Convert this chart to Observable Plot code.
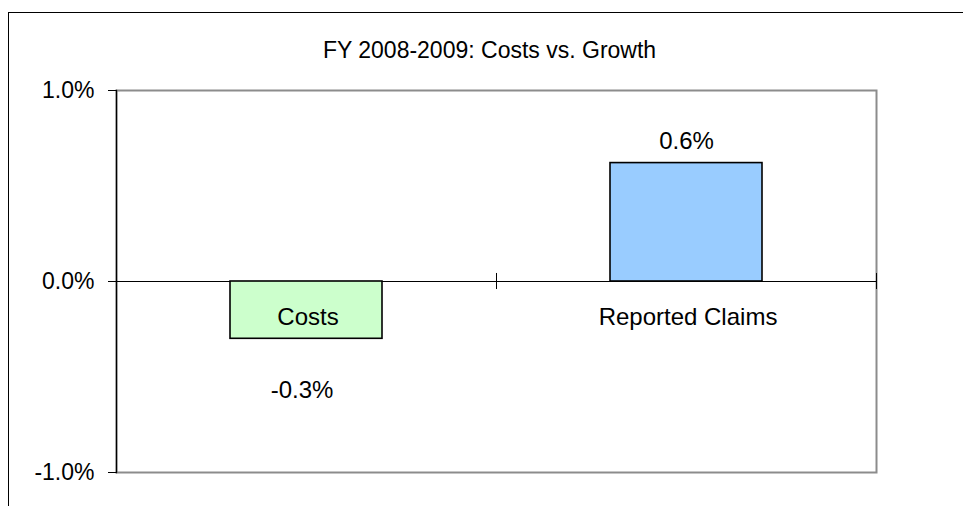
<!DOCTYPE html>
<html>
<head>
<meta charset="utf-8">
<script src="https://cdn.jsdelivr.net/npm/d3@7"></script>
<script src="https://cdn.jsdelivr.net/npm/@observablehq/plot@0.6"></script>
<style>
  html, body { margin: 0; padding: 0; background: #fff; }
  #wrap { position: relative; width: 963px; height: 506px; overflow: hidden; }
  #outer { position: absolute; left: 8px; top: 12px; width: 1000px; height: 600px; border: 1.5px solid #000; box-sizing: border-box; }
  #chart { position: absolute; left: 0; top: 0; }
</style>
</head>
<body>
<div id="wrap"><div id="outer"></div><div id="chart"></div></div>
<script>
const title = "FY 2008-2009: Costs vs. Growth";
const categories = ["Costs", "Reported Claims"];
const values = [-0.30, 0.62];          // percent growth
const valueLabels = ["-0.3%", "0.6%"];
const barColors = ["#CCFFCC", "#99CCFF"];
const yTicks = [-1, 0, 1];

const data = categories.map((c, i) => ({cat: c, value: values[i], label: valueLabels[i], color: barColors[i]}));

const plot = Plot.plot({
  width: 963,
  height: 506,
  marginLeft: 116,
  marginRight: 87,
  marginTop: 90,
  marginBottom: 34,
  style: {fontFamily: "'Liberation Sans', Arial, sans-serif", fontSize: "23px", color: "#000", background: "transparent"},
  x: {domain: categories, paddingInner: 0.6, paddingOuter: 0.3, axis: null},
  y: {domain: [-1, 1], axis: null},
  marks: [
    Plot.frame({stroke: "#8c8c8c", strokeWidth: 2}),
    Plot.frame({anchor: "left", stroke: "#000", strokeWidth: 1.3}),
    Plot.axisY({ticks: yTicks, tickFormat: d => d.toFixed(1) + "%", tickSize: 8, tickPadding: 14, label: null, fontSize: 23, stroke: "#000"}),
    Plot.ruleY([0], {stroke: "#000", strokeWidth: 1.2}),
    Plot.ruleX(categories, {x: d => d, y1: -0.042, y2: 0.042, dx: 190, stroke: "#000", strokeWidth: 1}),
    Plot.barY(data, {x: "cat", y: "value", fill: "color", stroke: "#000", strokeWidth: 1.6}),
    Plot.text(data.filter(d => d.value >= 0), {x: "cat", y: "value", text: "label", dy: -22, fontSize: 24, fill: "#000"}),
    Plot.text(data.filter(d => d.value < 0), {x: "cat", y: "value", text: "label", dy: 52, dx: -4.5, fontSize: 24, fill: "#000"}),
    Plot.text(data, {x: "cat", y: () => 0, text: "cat", dy: 36, dx: 1.5, fontSize: 24, fill: "#000"}),
    Plot.text([title], {frameAnchor: "top", dy: -49, dx: -7, fontSize: 23, fill: "#000"})
  ]
});
document.getElementById("chart").appendChild(plot);
</script>
</body>
</html>
